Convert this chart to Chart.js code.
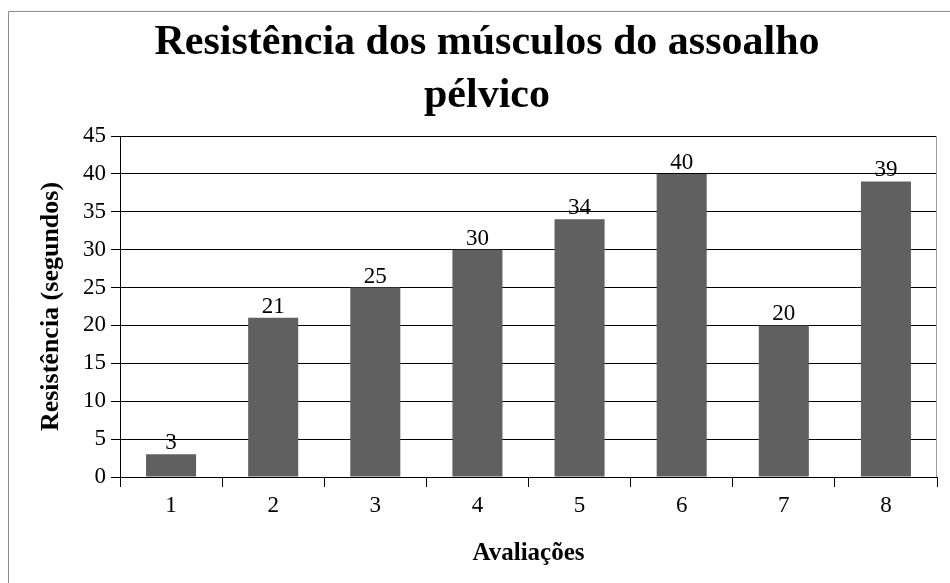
<!DOCTYPE html>
<html>
<head>
<meta charset="utf-8">
<script src="https://cdn.jsdelivr.net/npm/chart.js@4.4.1/dist/chart.umd.min.js"></script>
<style>
  html, body { margin: 0; padding: 0; background: #fff; }
  #wrap { position: relative; width: 950px; height: 583px; }
</style>
</head>
<body>
<div id="wrap"><canvas id="chart" width="950" height="583"></canvas></div>
<script>
// Dados
const avaliacoes = ['1', '2', '3', '4', '5', '6', '7', '8'];
const resistencia = [3, 21, 25, 30, 34, 40, 20, 39];
const yMin = 0;
const yMax = 45;
const yStep = 5;
const tituloLinhas = ['Resistência dos músculos do assoalho', 'pélvico'];

const SERIF = '"Liberation Serif", "Times New Roman", serif';

// Moldura externa, título e borda direita da área do gráfico
const framePlugin = {
    id: 'frame',
    beforeDraw(chart) {
        const ctx = chart.ctx;
        ctx.save();
        ctx.fillStyle = '#fff';
        ctx.fillRect(0, 0, chart.width, chart.height);
        ctx.strokeStyle = '#8c8c8c';
        ctx.lineWidth = 1;
        ctx.beginPath();
        ctx.moveTo(8.5, chart.height);
        ctx.lineTo(8.5, 11.5);
        ctx.lineTo(chart.width, 11.5);
        ctx.stroke();

        // título (centrado como no original, um pouco à direita)
        ctx.fillStyle = '#000';
        ctx.font = 'bold 42px ' + SERIF;
        ctx.textAlign = 'center';
        ctx.textBaseline = 'middle';
        ctx.fillText(tituloLinhas[0], 487, 43);
        ctx.fillText(tituloLinhas[1], 487, 96);
        ctx.restore();
    },
    afterDraw(chart) {
        const a = chart.chartArea;
        const ctx = chart.ctx;
        ctx.save();
        ctx.strokeStyle = '#9a9a9a';
        ctx.lineWidth = 1;
        ctx.beginPath();
        ctx.moveTo(Math.round(a.right) - 0.5, a.top);
        ctx.lineTo(Math.round(a.right) - 0.5, a.bottom);
        ctx.stroke();
        ctx.restore();
    }
};

// Rótulos de valor acima das barras
const valueLabels = {
    id: 'valueLabels',
    afterDatasetsDraw(chart) {
        const ctx = chart.ctx;
        const meta = chart.getDatasetMeta(0);
        ctx.save();
        ctx.font = '23px ' + SERIF;
        ctx.fillStyle = '#000';
        ctx.textAlign = 'center';
        ctx.textBaseline = 'alphabetic';
        meta.data.forEach((bar, i) => {
            ctx.fillText(String(resistencia[i]), bar.x, bar.y - 5);
        });
        ctx.restore();
    }
};

new Chart(document.getElementById('chart'), {
    type: 'bar',
    data: {
        labels: avaliacoes,
        datasets: [{
            data: resistencia,
            backgroundColor: '#606060',
            borderWidth: 0,
            barPercentage: 0.49,
            categoryPercentage: 1
        }]
    },
    plugins: [framePlugin, valueLabels],
    options: {
        responsive: false,
        animation: false,
        layout: { padding: { left: 0, right: 13, top: 136, bottom: 0 } },
        plugins: {
            legend: { display: false },
            tooltip: { enabled: false },
            title: { display: false }
        },
        scales: {
            x: {
                afterFit(scale) { scale.height = 106; },
                grid: {
                    offset: true,
                    drawOnChartArea: false,
                    drawTicks: true,
                    tickLength: 10,
                    color: '#000',
                    lineWidth: 1
                },
                border: { display: true, color: '#000', width: 1 },
                ticks: {
                    color: '#000',
                    font: { family: SERIF, size: 23 },
                    padding: 5
                },
                title: {
                    display: true,
                    text: 'Avaliações',
                    color: '#000',
                    font: { family: SERIF, size: 25, weight: 'bold' },
                    padding: { top: 0, bottom: 14 }
                }
            },
            y: {
                min: yMin,
                max: yMax,
                afterFit(scale) { scale.width = 120; },
                grid: {
                    color: '#000',
                    lineWidth: 1,
                    drawTicks: true,
                    tickLength: 9,
                    tickColor: '#000'
                },
                border: { display: true, color: '#000', width: 1 },
                ticks: {
                    stepSize: yStep,
                    color: '#000',
                    font: { family: SERIF, size: 23 },
                    padding: 5
                },
                title: {
                    display: true,
                    text: 'Resistência (segundos)',
                    color: '#000',
                    font: { family: SERIF, size: 26, weight: 'bold' },
                    padding: { top: 36, bottom: 0 }
                }
            }
        }
    }
});
</script>
</body>
</html>
